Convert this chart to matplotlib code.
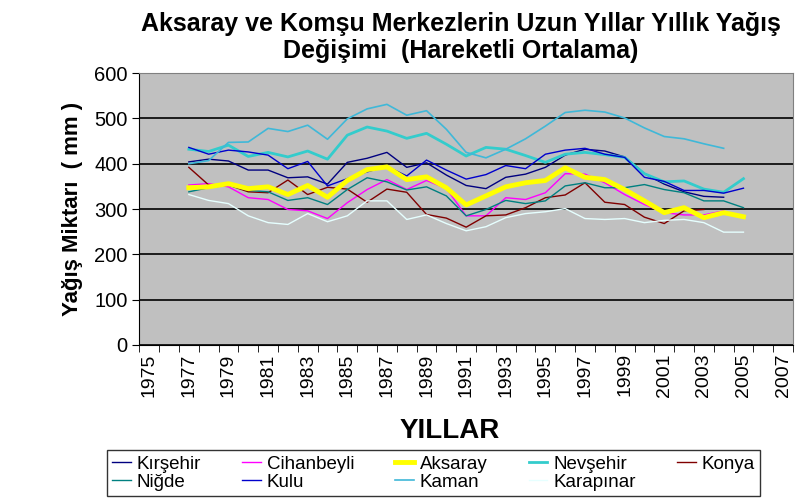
import matplotlib
matplotlib.use("Agg")
import matplotlib.pyplot as plt
import numpy as np

plt.rcParams['font.family'] = ['Liberation Sans', 'DejaVu Sans']

nan = np.nan
all_years = list(range(1975, 2008))
years = list(range(1977, 2006))

kirsehir = [404, 410, 406, 386, 386, 369, 371, 355, 403, 412, 425, 392, 402, 375, 352,
            345, 370, 377, 392, 419, 432, 428, 415, 378, 355, 338, 328, 326, nan]
cihanbeyli = [353, 356, 349, 325, 321, 299, 296, 279, 314, 343, 365, 343, 363, 345, 285,
              285, 325, 321, 336, 378, 377, 358, 332, 310, 292, 287, 287, 296, nan]
aksaray = [347, 349, 356, 345, 349, 332, 352, 326, 363, 387, 393, 365, 371, 347, 309,
           329, 349, 358, 363, 391, 370, 365, 343, 318, 292, 303, 281, 292, 283]
nevsehir = [432, 427, 441, 416, 425, 415, 428, 410, 463, 481, 472, 456, 467, 443, 417,
            436, 432, 418, 403, 421, 425, 420, 414, 378, 360, 362, 344, 337, 367]
konya = [392, 353, 353, 338, 336, 364, 332, 348, 344, 315, 344, 337, 288, 280, 260,
         285, 287, 303, 325, 331, 358, 315, 310, 282, 268, 296, 299, nan, nan]
nigde = [338, 347, 353, 341, 338, 319, 325, 310, 343, 369, 360, 342, 349, 329, 285,
         299, 319, 312, 318, 351, 358, 347, 347, 354, 343, 336, 318, 318, 303]
kulu = [436, 421, 430, 426, 419, 389, 405, 351, 367, 382, 394, 373, 408, 386, 366,
        376, 396, 389, 421, 430, 434, 421, 414, 370, 361, 341, 341, 335, 346]
kaman = [400, 407, 447, 448, 478, 471, 485, 454, 499, 521, 531, 507, 517, 476, 425,
         413, 432, 455, 483, 513, 518, 514, 501, 479, 460, 455, 444, 434, nan]
karapinar = [332, 319, 312, 285, 270, 266, 290, 272, 285, 318, 318, 277, 287, 268, 252,
             261, 281, 290, 294, 301, 279, 277, 279, 270, 275, 277, 270, 249, 249]

fig = plt.figure(figsize=(8.1, 5.04), dpi=100)
ax = fig.add_axes([0.172, 0.3155, 0.807, 0.5395])
ax.set_facecolor('#C0C0C0')

x = [all_years.index(y) for y in years]

h = {}
h['Kırşehir'], = ax.plot(x, kirsehir, color='#000080', lw=1)
h['Cihanbeyli'], = ax.plot(x, cihanbeyli, color='#FF00FF', lw=1)
h['Nevşehir'], = ax.plot(x, nevsehir, color='#33CCCC', lw=2)
h['Konya'], = ax.plot(x, konya, color='#800000', lw=1)
h['Niğde'], = ax.plot(x, nigde, color='#008080', lw=1)
h['Kulu'], = ax.plot(x, kulu, color='#0000CC', lw=1)
h['Kaman'], = ax.plot(x, kaman, color='#3FB8D8', lw=1.2)
h['Karapınar'], = ax.plot(x, karapinar, color='#E6FFFF', lw=1)
h['Aksaray'], = ax.plot(x, aksaray, color='#FFFF00', lw=3.5)

ax.set_ylim(0, 600)
ax.set_yticks(range(0, 601, 100))
ax.yaxis.grid(True, color='black', lw=1.2)
ax.set_axisbelow(True)
ax.set_xlim(-0.5, len(all_years) - 0.5)
ax.set_xticks(range(0, len(all_years), 2))
ax.set_xticklabels([str(y) for y in all_years[::2]], rotation=90)
ax.set_xticks(np.arange(-0.5, len(all_years), 1), minor=True)
ax.tick_params(axis='x', which='major', length=0, labelsize=14, pad=6)
ax.tick_params(axis='x', which='minor', length=5, color='black')
ax.tick_params(axis='y', labelsize=14.5, length=5)

for s in ['top', 'right']:
    ax.spines[s].set_color('#808080')
ax.spines['left'].set_color('black')
ax.spines['bottom'].set_color('black')

ax.set_ylabel('Yağış Miktarı  ( mm )', fontsize=16, fontweight='bold', labelpad=8)
fig.text(0.555, 0.145, 'YILLAR', ha='center', va='center', fontsize=20, fontweight='bold')
fig.text(0.569, 0.925, 'Aksaray ve Komşu Merkezlerin Uzun Yıllar Yıllık Yağış\nDeğişimi  (Hareketli Ortalama)',
         ha='center', va='center', fontsize=18, fontweight='bold', linespacing=1.15)

order = ['Kırşehir', 'Niğde', 'Cihanbeyli', 'Kulu', 'Aksaray', 'Kaman', 'Nevşehir', 'Karapınar', 'Konya']
leg = fig.legend([h[k] for k in order], order, ncol=5, loc='center',
                 bbox_to_anchor=(0.535, 0.0615), fontsize=13.5, frameon=True, fancybox=False,
                 handlelength=1.0, handletextpad=0.3, columnspacing=2.2,
                 borderpad=0.3, labelspacing=0.05, edgecolor='black')
leg.get_frame().set_linewidth(1)

fig.savefig('out.png', dpi=100)
